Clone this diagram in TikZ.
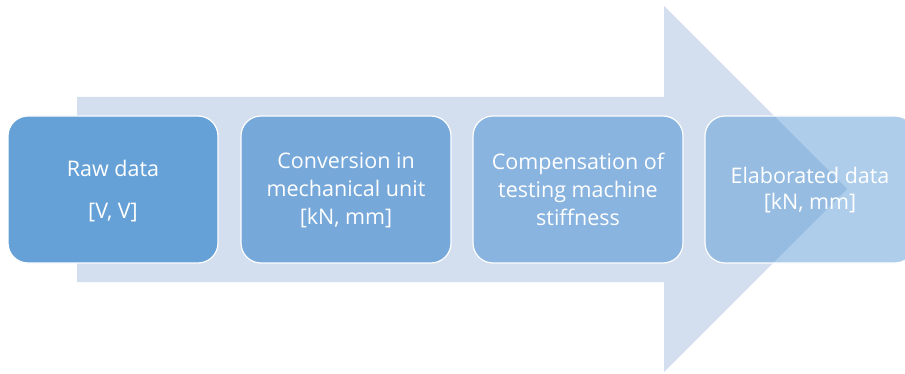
\documentclass[tikz,border=0pt]{standalone}
\usepackage{fontspec}
\setmainfont[Ligatures={NoCommon}]{Open Sans}
\definecolor{arrowc}{RGB}{211,222,239}
\definecolor{boxa}{RGB}{101,161,214}
\definecolor{boxb}{RGB}{118,168,218}
\definecolor{boxc}{RGB}{137,180,223}
\definecolor{boxd}{RGB}{91,155,213}
\tikzset{
  stepbox/.style={draw=white, line width=1.2pt, rounded corners=20pt},
  steptext/.style={text=white, align=center, font=\fontsize{21.5}{28}\selectfont, inner sep=0pt}
}
\begin{document}
\begin{tikzpicture}[x=1pt,y=-1pt]
\useasboundingbox (0,0) rectangle (905,374);
\fill[arrowc] (77,97) -- (664,97) -- (664,6) -- (847,189) -- (664,372) -- (664,282) -- (77,282) -- cycle;
\begin{scope}
\clip (0,0) rectangle (905,374);
\draw[stepbox, fill=boxa] (8,116) rectangle (218,263);
\draw[stepbox, fill=boxb] (241,116) rectangle (451,263);
\draw[stepbox, fill=boxc] (473,116) rectangle (683,263);
\draw[stepbox, fill=boxd, fill opacity=0.5] (705,116) rectangle (915,263);
\end{scope}
\node[steptext, font=\fontsize{21.5}{42}\selectfont] (n1) at (113,191) {Raw data\\{}[V, V]};
\node[steptext] (n2) at (346,190) {Conversion in\\mechanical unit\\{}[kN, mm]};
\node[steptext] (n3) at (578,189) {Compensation of\\testing machine\\stiffness};
\node[steptext, font=\fontsize{21.5}{26}\selectfont] (n4) at (810,190) {Elaborated data\\{}[kN, mm]};
\end{tikzpicture}
\end{document}
